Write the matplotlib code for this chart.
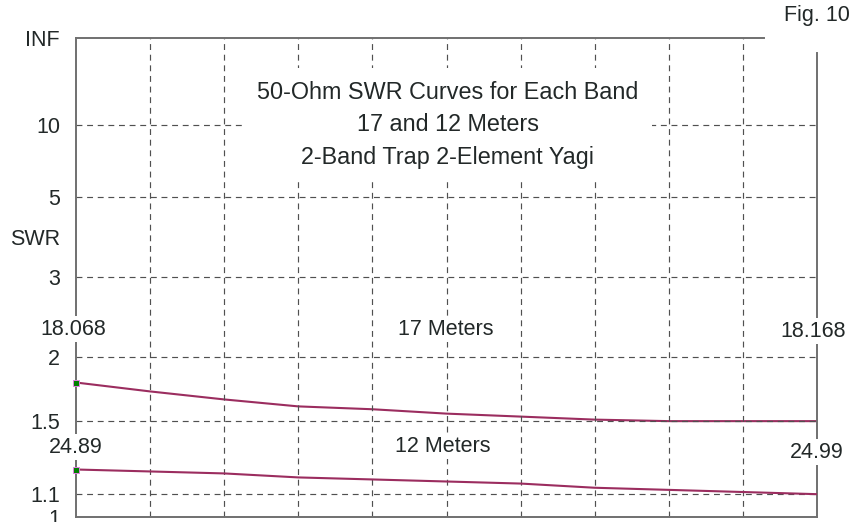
import numpy as np
import matplotlib
matplotlib.use("Agg")
import matplotlib.pyplot as plt

# частоты (МГц) по краям диапазонов
band17 = [18.068, 18.168]
band12 = [24.89, 24.99]

# КСВ через каждые 10% полосы
swr17 = [1.78, 1.71, 1.65, 1.60, 1.58, 1.55, 1.53, 1.51, 1.50, 1.50, 1.50]
swr12 = [1.22, 1.21, 1.20, 1.18, 1.17, 1.16, 1.15, 1.13, 1.12, 1.11, 1.10]

swr_ticks = [1, 1.1, 1.5, 2, 3, 5, 10, 1e12]
swr_labels = ['1', '1.1', '1.5', '2', '3', '5', '10', 'INF']

title = '50-Ohm SWR Curves for Each Band\n17 and 12 Meters\n2-Band Trap 2-Element Yagi'


def to_rho(s):
    s = np.asarray(s, dtype=float)
    return (s - 1) / (s + 1)


def from_rho(r):
    r = np.clip(np.asarray(r, dtype=float), -0.999999, 0.999999)
    return (1 + r) / (1 - r)


def main():
    plt.rcParams['font.family'] = ['Liberation Sans', 'DejaVu Sans']
    txt = '#222828'
    curve = '#9B2D5F'
    grid = '#505050'
    axis = '#707070'

    fig = plt.figure(figsize=(8.57, 5.22), dpi=100)
    ax = fig.add_axes([76 / 857, 5 / 522, 741 / 857, 479.3 / 522])

    ax.set_yscale('function', functions=(to_rho, from_rho))
    ax.set_ylim(1, 1e12)
    ax.set_yticks(swr_ticks)
    ax.set_yticklabels(swr_labels, fontsize=15.5, color=txt)
    ax.tick_params(axis='y', length=0, pad=11.5)

    f17 = np.linspace(band17[0], band17[1], len(swr17))
    ax.set_xlim(band17)
    ax.set_xticks(np.linspace(band17[0], band17[1], 11))
    ax.tick_params(axis='x', length=0, labelbottom=False)

    ax.grid(True, color=grid, lw=0.85, linestyle=(0, (5, 4)))
    for t in (ax.yaxis.get_major_ticks()[0], ax.yaxis.get_major_ticks()[-1],
              ax.xaxis.get_major_ticks()[0], ax.xaxis.get_major_ticks()[-1]):
        t.gridline.set_visible(False)

    for s in ax.spines.values():
        s.set_color(axis)
        s.set_linewidth(1.4)
    ax.spines['top'].set_bounds(band17[0], band17[0] + 0.1 * 688 / 741)
    ax.spines['right'].set_bounds(1, 61.5)

    ax.set_ylabel('SWR', rotation=0, fontsize=15.5, color=txt, ha='right', va='center')
    ax.yaxis.set_label_coords(-16 / 741, 0.58)

    # 17 м
    ax.plot(f17, swr17, color=curve, lw=1.5, zorder=1.5)
    ax.plot(f17[0], swr17[0], 's', color='#008000', mec='#e080e0', mew=0.7,
            ms=4.5, clip_on=False, zorder=4)

    # 12 м на своей оси частот
    ax2 = ax.twiny()
    ax2.set_xlim(band12)
    ax2.axis('off')
    f12 = np.linspace(band12[0], band12[1], len(swr12))
    ax2.plot(f12, swr12, color=curve, lw=1.5, zorder=1.5)
    ax2.plot(f12[0], swr12[0], 's', color='#008000', mec='#e080e0', mew=0.7,
             ms=4.5, clip_on=False, zorder=4)

    box = dict(facecolor='white', edgecolor='none', pad=2)
    kw = dict(transform=ax.transAxes, fontsize=15.5, color=txt, ha='center',
              va='center', bbox=box, zorder=5)
    ax.text(-0.004, 0.392, '%.3f' % band17[0], **kw)
    ax.text(0.995, 0.388, '%.3f' % band17[1], **kw)
    ax.text(-0.001, 0.146, '%.2f' % band12[0], **kw)
    ax.text(1.0, 0.1356, '%.2f' % band12[1], **kw)
    ax.text(0.4993, 0.392, '17 Meters', **kw)
    ax.text(0.495, 0.148, '12 Meters', **kw)

    ax.text(0.502, 0.818, title, transform=ax.transAxes, fontsize=16.8,
            color=txt, ha='center', va='center', linespacing=1.55,
            bbox=dict(facecolor='white', edgecolor='none',
                      boxstyle='square,pad=0.55'), zorder=5)

    fig.text(850 / 857, 1 - 15 / 522, 'Fig. 10', fontsize=15.5, color=txt,
             ha='right', va='center')

    fig.savefig('out.png', dpi=100)


if __name__ == "__main__":
    main()
